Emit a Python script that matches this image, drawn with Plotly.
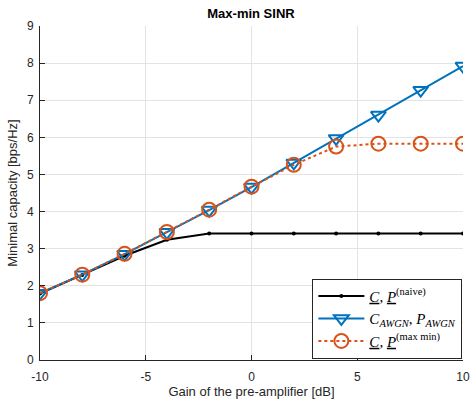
import plotly.graph_objects as go

gain_db = [-10, -8, -6, -4, -2, 0, 2, 4, 6, 8, 10]
cap_naive = [1.79, 2.29, 2.81, 3.24, 3.41, 3.41, 3.41, 3.41, 3.41, 3.41, 3.41]
cap_awgn = [1.80, 2.30, 2.85, 3.44, 4.04, 4.66, 5.31, 5.97, 6.60, 7.27, 7.92]
cap_maxmin = [1.80, 2.30, 2.86, 3.45, 4.05, 4.67, 5.26, 5.75, 5.83, 5.83, 5.83]
x_ticks = [-10, -5, 0, 5, 10]
x_tick_text = ["-10", "-5", "0", "5", "10"]
y_ticks = list(range(10))

U = '<span style="text-decoration:underline"><i>{}</i></span>'
names = [
    U.format("C") + ", " + U.format("P") + "<sup>(naive)</sup>",
    "<i>C</i><sub><i>AWGN</i></sub>, <i>P</i><sub><i>AWGN</i></sub>",
    U.format("C") + ", " + U.format("P") + "<sup>(max min)</sup>",
]

fig = go.Figure()
fig.add_trace(go.Scatter(
    x=gain_db, y=cap_naive, name=names[0], mode="lines+markers",
    line=dict(color="black", width=2),
    marker=dict(symbol="circle", size=4, color="black"),
))
fig.add_trace(go.Scatter(
    x=gain_db, y=cap_awgn, name=names[1], mode="lines+markers",
    line=dict(color="#0072BD", width=2),
    marker=dict(symbol="triangle-down-open", size=13, color="#0072BD",
                line=dict(width=2, color="#0072BD")),
))
fig.add_trace(go.Scatter(
    x=gain_db, y=cap_maxmin, name=names[2], mode="lines+markers",
    line=dict(color="#D95319", width=2, dash="dot"),
    marker=dict(symbol="circle-open", size=14, color="#D95319",
                line=dict(width=2, color="#D95319")),
))

axis_common = dict(
    showgrid=True, gridcolor="#e3e3e3", gridwidth=1, automargin=False,
    zeroline=False, showline=True, linecolor="#262626", linewidth=1,
    ticks="inside", ticklen=5, tickcolor="#262626", mirror=False,
    tickfont=dict(family="Liberation Sans, Arial", size=12, color="#262626"),
)

fig.update_layout(
    width=470, height=399,
    margin=dict(l=40, r=7, t=26, b=39),
    paper_bgcolor="white", plot_bgcolor="white",
    title=dict(text="<b>Max-min SINR</b>", x=0.534, xanchor="center", y=0.967, yanchor="middle",
               font=dict(family="Liberation Sans, Arial", size=13, color="black")),
    xaxis=dict(range=[-10, 10], tickvals=x_ticks, ticktext=x_tick_text,
               ticklabelstandoff=6,
               title=dict(text="Gain of the pre-amplifier [dB]", standoff=3,
                          font=dict(family="Liberation Sans, Arial", size=13, color="#262626")),
               **axis_common),
    yaxis=dict(range=[0, 9], tickvals=y_ticks, ticklabelstandoff=3,
               title=dict(text="Minimal capacity [bps/Hz]", standoff=6,
                          font=dict(family="Liberation Sans, Arial", size=13, color="#262626")),
               **axis_common),
    showlegend=True,
    legend=dict(x=0.9985, y=0.004, xanchor="right", yanchor="bottom",
                bgcolor="white", bordercolor="#262626", borderwidth=1,
                font=dict(family="Liberation Serif, DejaVu Serif", size=15, color="black"),
                tracegroupgap=0, itemwidth=46),
)

fig.write_html("out.html")
